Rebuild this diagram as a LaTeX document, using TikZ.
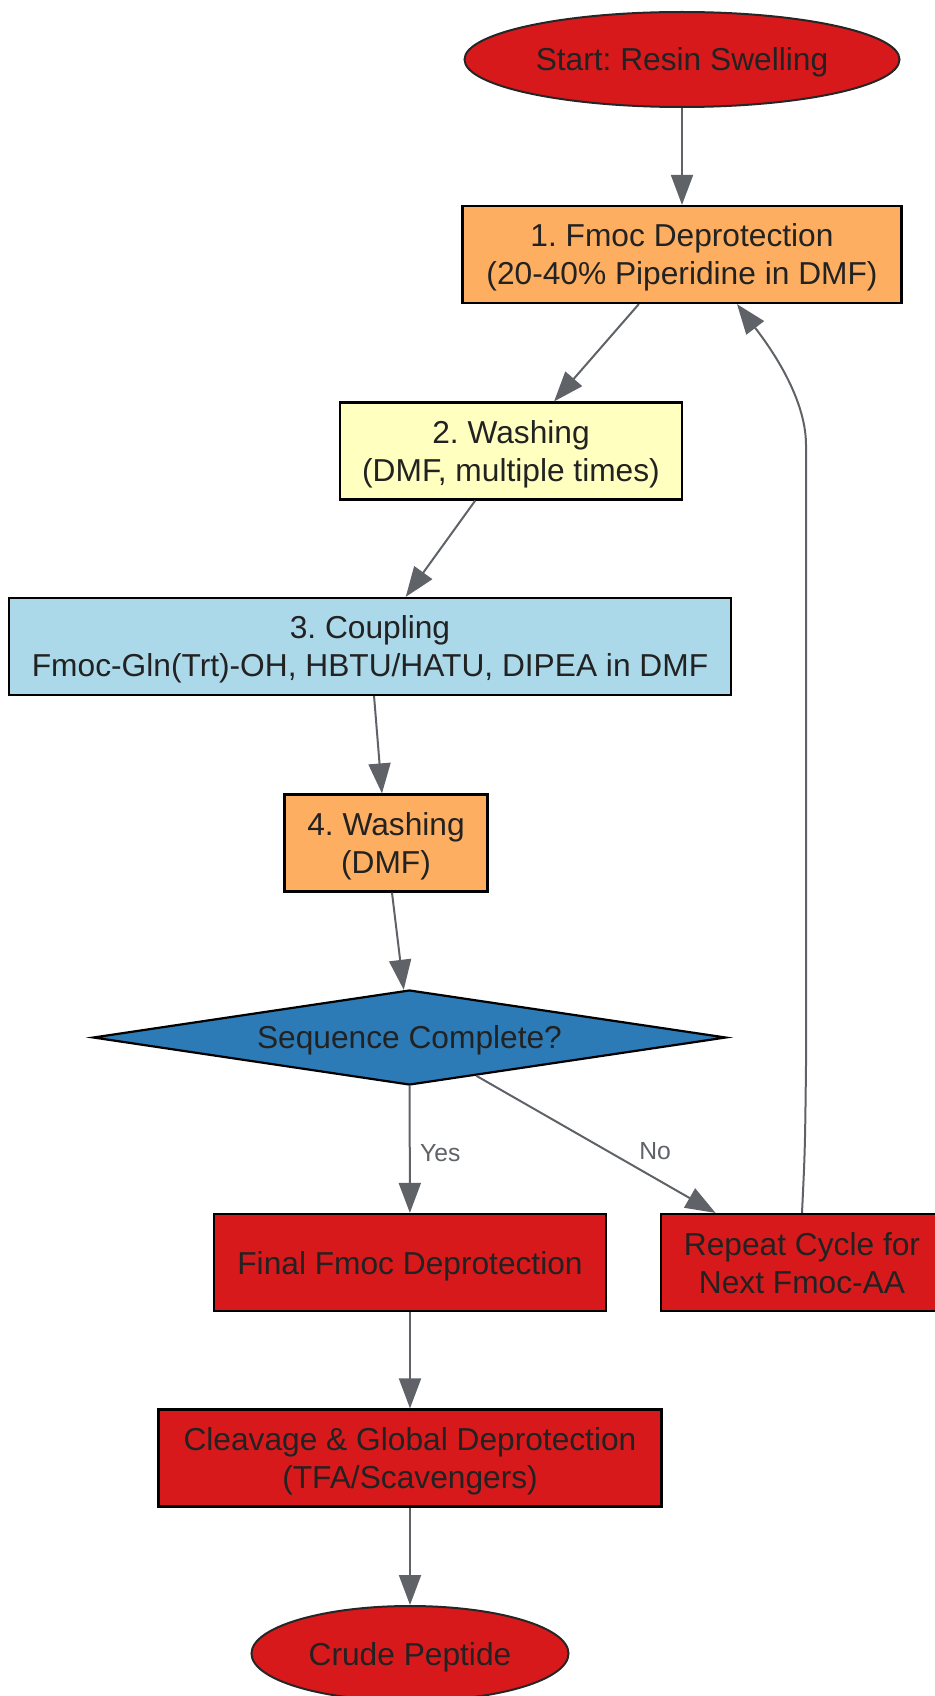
\documentclass[tikz,border=0pt]{standalone}
\usepackage{fontspec}
\setmainfont{Liberation Sans}
\usepackage{xcolor}
\usetikzlibrary{arrows.meta,shapes.geometric,calc}
\frenchspacing

\definecolor{spsred}{HTML}{D7191C}
\definecolor{spsorange}{HTML}{FDAE61}
\definecolor{spsyellow}{HTML}{FFFFBF}
\definecolor{spslight}{HTML}{ABD9E9}
\definecolor{spsblue}{HTML}{2C7BB6}
\definecolor{edgegray}{HTML}{5F6368}
\definecolor{inkgray}{HTML}{222222}

\begin{document}
\begin{tikzpicture}[x=1pt, y=-1pt,
  every node/.style={text=inkgray, font=\fontsize{31.7}{38}\selectfont, align=center, text depth=0pt},
  stepbox/.style={draw=black, line width=2.2pt, rectangle, minimum height=97pt, inner sep=0pt},
  termnode/.style={draw=black!85, line width=2pt, ellipse, fill=spsred, minimum height=95pt, inner sep=0pt},
  decision/.style={draw=black, line width=2.2pt, diamond, fill=spsblue, shape aspect=6.66,
    minimum width=633pt, minimum height=95pt, inner sep=0pt},
  flow/.style={draw=edgegray, line width=2pt, -{Triangle[length=30pt,width=22pt]}},
  lbl/.style={font=\fontsize{24.7}{30}\selectfont, text=edgegray}]

\useasboundingbox (0,0) rectangle (934,1696);

% === START ===
\node[termnode, minimum width=435pt] (start) at (682,59.5) {Start: Resin Swelling};

% === CYCLE: deprotect, wash, couple, wash ===
\node[stepbox, fill=spsorange, minimum width=439pt] (deprot) at (682,254.5) {1. Fmoc Deprotection\\(20-40\% Piperidine in DMF)};
\node[stepbox, fill=spsyellow, minimum width=342pt] (washa) at (511,451) {2. Washing\\(DMF, multiple times)};
\node[stepbox, fill=spslight, minimum width=722pt] (couple) at (370,646.5) {3. Coupling\\Fmoc-Gln(Trt)-OH, HBTU/HATU, DIPEA in DMF};
\node[stepbox, fill=spsorange, minimum width=203pt] (washb) at (386,843) {4. Washing\\(DMF)};

% decision
\node[decision] (check) at (409.5,1037.5) {Sequence Complete?};

% === END BRANCH ===
\node[stepbox, fill=spsred, minimum width=392pt] (final) at (410,1262.5) {Final Fmoc Deprotection};
\node[stepbox, fill=spsred, minimum width=282pt] (repeat) at (802,1262.5) {Repeat Cycle for\\Next Fmoc-AA};
\node[stepbox, fill=spsred, minimum width=503pt] (cleave) at (410,1458) {Cleavage \& Global Deprotection\\(TFA/Scavengers)};
\node[termnode, minimum width=317pt] (crude) at (410,1653.5) {Crude Peptide};

% === CONNECTORS ===
\draw[flow] (start) -- (deprot);
\draw[flow] (deprot) -- (washa);
\draw[flow] (washa) -- (couple);
\draw[flow] (couple) -- (washb);
\draw[flow] (washb) -- (check);
\draw[flow] (check) -- node[lbl, pos=0.5, anchor=west, xshift=6pt, yshift=-3pt] {Yes} (final);
\draw[flow] (check) -- node[lbl, pos=0.5, anchor=west, xshift=39pt, yshift=-7pt] {No} (repeat);
\draw[flow] (final) -- (cleave);
\draw[flow] (cleave) -- (crude);

% loop back to deprotection
\draw[flow] (repeat.north) .. controls (805,1150) .. (806,1065) -- (806,445)
  .. controls (806,395) and (766,342) .. ($(deprot.south)+(55,0)$);

\end{tikzpicture}
\end{document}
